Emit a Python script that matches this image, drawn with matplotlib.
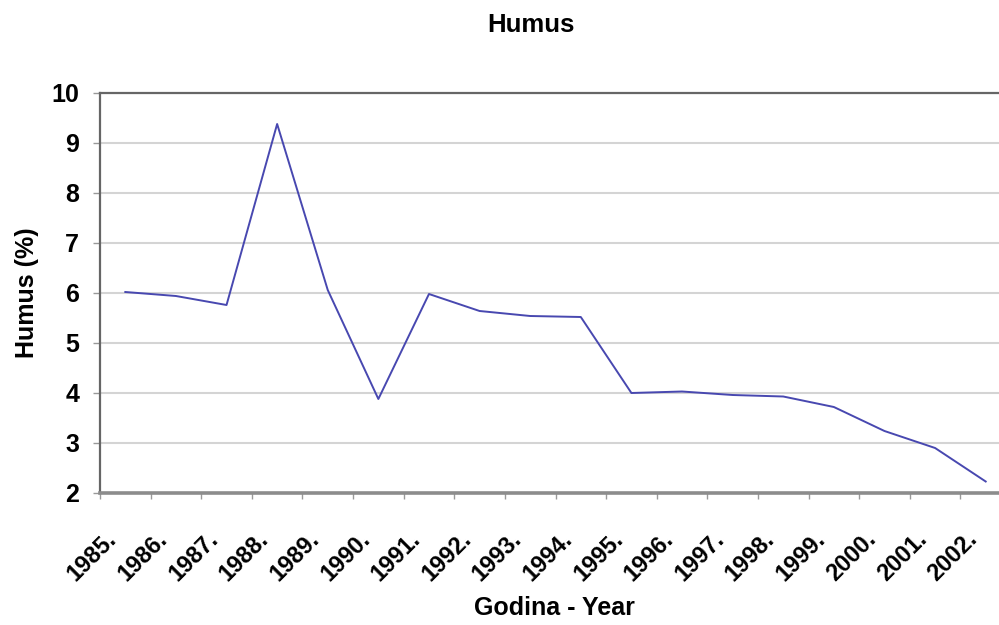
import matplotlib.pyplot as plt
import matplotlib.transforms as mtransforms
import numpy as np

years = ['1985.', '1986.', '1987.', '1988.', '1989.', '1990.', '1991.', '1992.', '1993.',
         '1994.', '1995.', '1996.', '1997.', '1998.', '1999.', '2000.', '2001.', '2002.']
humus = [6.02, 5.94, 5.76, 9.38, 6.06, 3.88, 5.98, 5.64, 5.54,
         5.52, 4.0, 4.03, 3.96, 3.93, 3.72, 3.24, 2.9, 2.23]
y_ticks = [2, 3, 4, 5, 6, 7, 8, 9, 10]

plt.rcParams['font.family'] = ['Liberation Sans', 'DejaVu Sans']
plt.rcParams['font.weight'] = 'bold'

fig = plt.figure(figsize=(9.99, 6.25), dpi=100)
# plot area runs past the right edge of the picture, like the cropped original
ax = fig.add_axes([100 / 999, 1 - 493 / 625, 911 / 999, 400 / 625])

x = np.arange(len(years)) + 0.5
ax.plot(x, humus, color='#4848b0', lw=1.4)

ax.set_xlim(0, len(years))
ax.set_ylim(2, 10)
ax.set_yticks(y_ticks)
ax.yaxis.grid(True, color='#d4d4d4', lw=1.5)
ax.set_axisbelow(True)

# boundaries get tick marks, centers get labels
ax.set_xticks(np.arange(len(years) + 1))
ax.set_xticklabels([])
ax.set_xticks(x, minor=True)
ax.set_xticklabels(years, minor=True, rotation=45, ha='right', va='top', fontsize=17)
ax.tick_params(axis='x', which='major', length=4, width=1, color='#999999', direction='out')
ax.tick_params(axis='x', which='minor', length=0, pad=25)
ax.tick_params(axis='y', length=5, width=1, color='#999999', labelsize=18, pad=10)
shift = mtransforms.ScaledTranslation(-4 / 100, 0, fig.dpi_scale_trans)
for lbl in ax.xaxis.get_minorticklabels():
    lbl.set_transform(lbl.get_transform() + shift)

for side in ['top', 'left']:
    ax.spines[side].set_color('#666666')
    ax.spines[side].set_linewidth(1.6)
ax.spines['bottom'].set_color('#8c8c8c')
ax.spines['bottom'].set_linewidth(2.6)
ax.spines['right'].set_visible(False)

fig.text(27 / 999, 1 - 293 / 625, 'Humus (%)', fontsize=18, fontweight='bold',
         rotation=90, ha='center', va='center')
fig.text(554 / 999, 1 - 608 / 625, 'Godina - Year', fontsize=18, fontweight='bold',
         ha='center', va='center')
fig.text(531 / 999, 1 - 25 / 625, 'Humus', fontsize=18.5, fontweight='bold',
         ha='center', va='center')

fig.savefig('out.png', dpi=100)
